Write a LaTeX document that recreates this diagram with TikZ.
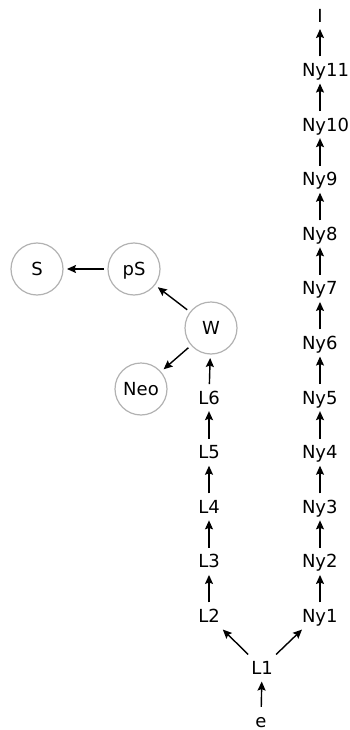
\documentclass[tikz,border=0pt]{standalone}
\usepackage{fontspec}
\setmainfont{DejaVu Sans}
\usetikzlibrary{arrows.meta}

\tikzset{
    lbl/.style={inner sep=0pt, outer sep=7pt, text height=13.1pt, text depth=0pt, text=black},
    stage/.style={lbl, circle, draw=black!30, line width=1.2pt, minimum size=52pt, outer sep=4pt},
    arr/.style={-{Stealth[length=9pt,width=8pt,inset=1.5pt]}, line width=1.4pt, draw=black},
}

\begin{document}
\begin{tikzpicture}[x=1pt, y=-1pt, font=\fontsize{18}{22}\selectfont]
    \useasboundingbox (0, 0) rectangle (350, 730);

        % Declare the start
        \node[lbl] at (261, 720.5) (e) {e};
        \node[lbl] at (262, 668) (L1) {L1};

        % Declare the left branch
        \node[lbl] at (209, 616) (L2) {L2};
        \node[lbl] at (209, 561.4) (L3) {L3};
        \node[lbl] at (209, 506.8) (L4) {L4};
        \node[lbl] at (209, 452.2) (L5) {L5};
        \node[lbl] at (209, 397.6) (L6) {L6};

        % Declare the circled states
        \node[stage] at (211, 328) (W) {W};
        \node[stage] at (134, 269) (pS) {pS};
        \node[stage] at (37, 269) (S) {S};
        \node[stage] at (141, 389) (Neo) {Neo};

        % Declare the right branch
        \node[lbl, anchor=west] at (295, 616) (Ny1) {Ny1};
        \node[lbl, anchor=west] at (295, 561.4) (Ny2) {Ny2};
        \node[lbl, anchor=west] at (295, 506.8) (Ny3) {Ny3};
        \node[lbl, anchor=west] at (295, 452.2) (Ny4) {Ny4};
        \node[lbl, anchor=west] at (295, 397.6) (Ny5) {Ny5};
        \node[lbl, anchor=west] at (295, 343) (Ny6) {Ny6};
        \node[lbl, anchor=west] at (295, 288.4) (Ny7) {Ny7};
        \node[lbl, anchor=west] at (295, 233.8) (Ny8) {Ny8};
        \node[lbl, anchor=west] at (295, 179.2) (Ny9) {Ny9};
        \node[lbl, anchor=west] at (295, 124.6) (Ny10) {Ny10};
        \node[lbl, anchor=west] at (295, 70) (Ny11) {Ny11};
        \node[lbl] at (320, 15.5) (I) {I};

        % Declare edges
        \draw[arr] (e) -- (L1);
        \draw[arr] (L1) -- (L2);
        \draw[arr] (L1) -- (Ny1.south west -| 302, 0);
        \draw[arr] (L2) -- (L3);
        \draw[arr] (L3) -- (L4);
        \draw[arr] (L4) -- (L5);
        \draw[arr] (L5) -- (L6);
        \draw[arr] (L6) -- (W);
        \draw[arr] (W) -- (pS);
        \draw[arr] (W) -- (Neo);
        \draw[arr] (pS) -- (S);

        \draw[arr] (Ny1.north -| I) -- (Ny2.south -| I);
        \draw[arr] (Ny2.north -| I) -- (Ny3.south -| I);
        \draw[arr] (Ny3.north -| I) -- (Ny4.south -| I);
        \draw[arr] (Ny4.north -| I) -- (Ny5.south -| I);
        \draw[arr] (Ny5.north -| I) -- (Ny6.south -| I);
        \draw[arr] (Ny6.north -| I) -- (Ny7.south -| I);
        \draw[arr] (Ny7.north -| I) -- (Ny8.south -| I);
        \draw[arr] (Ny8.north -| I) -- (Ny9.south -| I);
        \draw[arr] (Ny9.north -| I) -- (Ny10.south -| I);
        \draw[arr] (Ny10.north -| I) -- (Ny11.south -| I);
        \draw[arr] (Ny11.north -| I) -- (I);

    \end{tikzpicture}
\end{document}
